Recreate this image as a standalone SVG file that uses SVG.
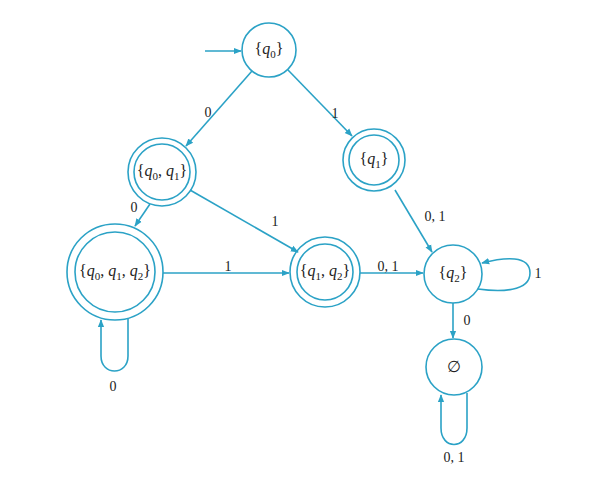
<svg xmlns="http://www.w3.org/2000/svg" width="616" height="496" viewBox="0 0 616 496">
<style>
.st{fill:none;stroke:#2ba2c6;stroke-width:1.6}
.ed{fill:none;stroke:#2ba2c6;stroke-width:1.6}
.nt{font-family:"Liberation Serif",serif;font-size:16px;fill:#222;text-anchor:middle}
.lb{font-family:"Liberation Serif",serif;font-size:14px;fill:#222;text-anchor:middle}
.q{font-style:italic}
.s{font-size:11px}
</style>
<defs>
<marker id="ah" viewBox="0 0 10 10" refX="9" refY="5" markerWidth="8" markerHeight="8" orient="auto" markerUnits="userSpaceOnUse">
<path d="M0,1 L10,5 L0,9 Z" fill="#2ba2c6"/>
</marker>
</defs>
<rect width="616" height="496" fill="#fff"/>
<g id="connectors">
<path class="ed" d="M205,51 L241,51" marker-end="url(#ah)"/>
<path class="ed" d="M252,71 L186,146" marker-end="url(#ah)"/>
<path class="ed" d="M288,70 L352,136" marker-end="url(#ah)"/>
<path class="ed" d="M150,204 L135,226" marker-end="url(#ah)"/>
<path class="ed" d="M190,190 L298,252" marker-end="url(#ah)"/>
<path class="ed" d="M395,190 L432,252" marker-end="url(#ah)"/>
<path class="ed" d="M163,273 L289,273" marker-end="url(#ah)"/>
<path class="ed" d="M360,273 L423,273" marker-end="url(#ah)"/>
<path class="ed" d="M478,289 C500,292 530,292 530,273 C530,255 505,257 482,263" marker-end="url(#ah)"/>
<path class="ed" d="M453,303 L453,338" marker-end="url(#ah)"/>
<path class="ed" d="M128,319 L128,356 C128,376 101,376 101,356 L101,320" marker-end="url(#ah)"/>
<path class="ed" d="M467,393 L467,428 C467,450 441,450 441,428 L441,395" marker-end="url(#ah)"/>
<text class="lb" x="208" y="117">0</text>
<text class="lb" x="335" y="118">1</text>
<text class="lb" x="134" y="212">0</text>
<text class="lb" x="275" y="226">1</text>
<text class="lb" x="435" y="221">0, 1</text>
<text class="lb" x="228" y="271">1</text>
<text class="lb" x="388" y="271">0, 1</text>
<text class="lb" x="538" y="278">1</text>
<text class="lb" x="467" y="325">0</text>
<text class="lb" x="113" y="391">0</text>
<text class="lb" x="454" y="462">0, 1</text>
</g>
<g id="q0">
<circle class="st" cx="269" cy="50" r="27"/>
<text class="nt" x="269" y="54">{<tspan class="q">q</tspan><tspan class="s" dy="4">0</tspan><tspan dy="-4">}</tspan></text>
</g>
<g id="q0q1">
<circle class="st" cx="162" cy="172" r="34"/>
<circle class="st" cx="162" cy="172" r="28"/>
<text class="nt" x="162" y="176">{<tspan class="q">q</tspan><tspan class="s" dy="4">0</tspan><tspan dy="-4">, </tspan><tspan class="q">q</tspan><tspan class="s" dy="4">1</tspan><tspan dy="-4">}</tspan></text>
</g>
<g id="q1">
<circle class="st" cx="374" cy="160" r="31"/>
<circle class="st" cx="374" cy="160" r="25"/>
<text class="nt" x="374" y="164">{<tspan class="q">q</tspan><tspan class="s" dy="4">1</tspan><tspan dy="-4">}</tspan></text>
</g>
<g id="q0q1q2">
<circle class="st" cx="115" cy="272" r="48"/>
<circle class="st" cx="115" cy="272" r="40"/>
<text class="nt" x="115" y="276">{<tspan class="q">q</tspan><tspan class="s" dy="4">0</tspan><tspan dy="-4">, </tspan><tspan class="q">q</tspan><tspan class="s" dy="4">1</tspan><tspan dy="-4">, </tspan><tspan class="q">q</tspan><tspan class="s" dy="4">2</tspan><tspan dy="-4">}</tspan></text>
</g>
<g id="q1q2">
<circle class="st" cx="325" cy="272" r="35"/>
<circle class="st" cx="325" cy="272" r="28"/>
<text class="nt" x="325" y="276">{<tspan class="q">q</tspan><tspan class="s" dy="4">1</tspan><tspan dy="-4">, </tspan><tspan class="q">q</tspan><tspan class="s" dy="4">2</tspan><tspan dy="-4">}</tspan></text>
</g>
<g id="q2">
<circle class="st" cx="453" cy="274" r="29"/>
<text class="nt" x="453" y="278">{<tspan class="q">q</tspan><tspan class="s" dy="4">2</tspan><tspan dy="-4">}</tspan></text>
</g>
<g id="empty">
<circle class="st" cx="454" cy="367" r="28"/>
<text class="nt" x="454" y="372">∅</text>
</g>
</svg>
